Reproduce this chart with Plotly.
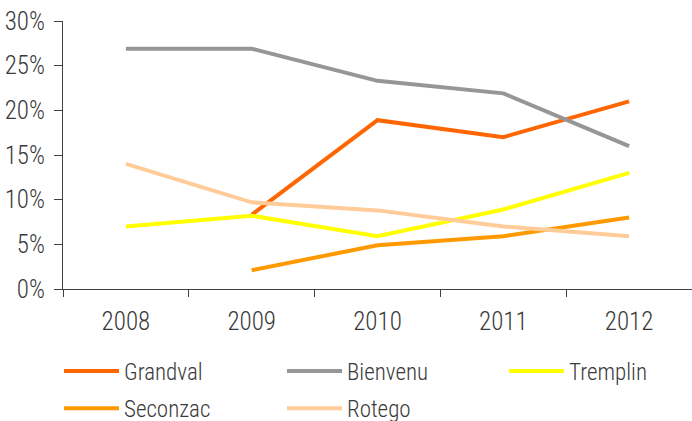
import plotly.graph_objects as go

years = ["2008", "2009", "2010", "2011", "2012"]
grandval = [None, 8.3, 18.9, 17.0, 21.0]
bienvenu = [26.9, 26.9, 23.3, 21.9, 16.0]
tremplin = [7.0, 8.2, 5.9, 8.9, 13.0]
seconzac = [None, 2.1, 4.9, 5.9, 8.0]
rotego = [14.0, 9.7, 8.8, 7.0, 5.9]

series = [
    ("Grandval", grandval, "#FF6600"),
    ("Bienvenu", bienvenu, "#969696"),
    ("Tremplin", tremplin, "#FFFF00"),
    ("Seconzac", seconzac, "#FF9900"),
    ("Rotego", rotego, "#FFCC99"),
]
# legend grid: (column, row) of each entry
legend_slots = [(0, 0), (1, 0), (2, 0), (0, 1), (1, 1)]
legend_cols_x = [59 / 692, 282 / 692, 504 / 692]   # container fractions
legend_rows_y = [-0.306, -0.445]                    # paper fractions

FONT = "Roboto Condensed"
TXT = "#3a3a3a"
tick_fnt = dict(family=FONT, size=25, color=TXT, weight=300)
leg_fnt = dict(family=FONT, size=23, color=TXT, weight=300)

fig = go.Figure()
legends = {}
for i, ((name, vals, color), (c, r)) in enumerate(zip(series, legend_slots)):
    key = "legend" if i == 0 else f"legend{i + 1}"
    fig.add_trace(go.Scatter(
        x=years, y=vals, name=name, mode="lines",
        line=dict(color=color, width=4),
        connectgaps=False, legend=key,
    ))
    legends[key] = dict(
        x=legend_cols_x[c], y=legend_rows_y[r],
        orientation="h", xanchor="left", yanchor="middle", xref="container",
        itemwidth=55, font=leg_fnt, bgcolor="rgba(0,0,0,0)",
    )

fig.update_layout(
    width=692, height=421,
    margin=dict(l=63, r=0, t=21, b=132, autoexpand=False),
    paper_bgcolor="white", plot_bgcolor="white",
    font=tick_fnt,
    showlegend=True,
    xaxis=dict(
        type="category", showgrid=False, zeroline=False, automargin=False,
        showline=True, linecolor="#404040", linewidth=1,
        ticks="outside", ticklen=7, tickcolor="#404040", tickson="boundaries",
        ticklabelstandoff=10, tickfont=tick_fnt, ticklabeloverflow="allow",
        range=[-0.5, 4.5],
    ),
    yaxis=dict(
        range=[0, 30], dtick=5, ticksuffix="%", automargin=False,
        showgrid=False, zeroline=False,
        showline=True, linecolor="#404040", linewidth=1,
        ticks="outside", ticklen=8, tickcolor="#404040",
        ticklabelstandoff=4, tickfont=tick_fnt, ticklabeloverflow="allow",
    ),
    **legends,
)

# remove the browser's default 8px body margin so the figure fills the window
fig.write_html(
    "out.html",
    config={"displayModeBar": False},
    post_script="document.body.style.margin='0';document.body.style.overflow='hidden';",
)
